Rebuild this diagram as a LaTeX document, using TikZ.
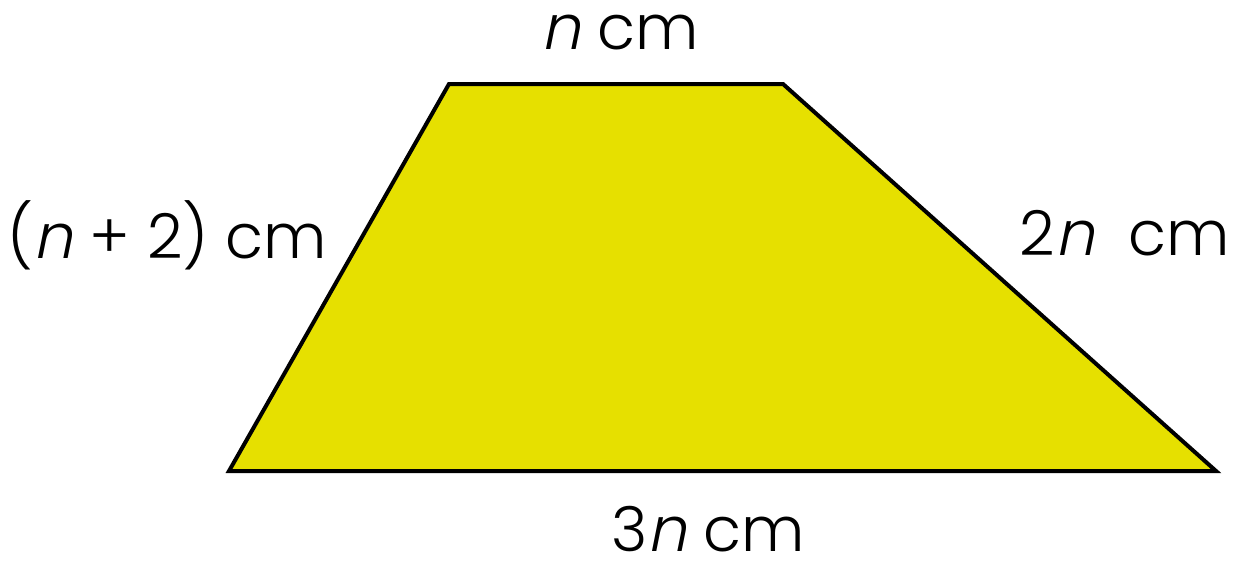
\documentclass[tikz,border=0pt]{standalone}
\usepackage{fontspec}
\IfFontExistsTF{Poppins Light}{%
  \setmainfont{Poppins Light}
  \newfontfamily\slfont{Poppins Light}[FakeSlant=0.2]
}{%
  \setmainfont{Poppins}
  \newfontfamily\slfont{Poppins}[FakeSlant=0.2]
}
\definecolor{trapfill}{HTML}{E6E000}
\tikzset{
  lbl/.style={font=\fontsize{62}{74}\selectfont, inner sep=0pt, anchor=base},
  trapstyle/.style={draw=black, fill=trapfill, line width=4pt, line join=miter}
}
\begin{document}
\begin{tikzpicture}[x=1pt,y=-1pt]
\useasboundingbox (0,0) rectangle (1240,562);
\coordinate (tl) at (449,84);
\coordinate (tr) at (783,84);
\coordinate (br) at (1216,471);
\coordinate (bl) at (229,471);
\draw[trapstyle] (tl) -- (tr) -- (br) -- (bl) -- cycle;
\node[lbl] (top) at (620,49) {{\slfont n} cm};
\node[lbl] (left) at (167,258) {({\slfont n} + 2) cm};
\node[lbl] (right) at (1125,255) {2{\slfont n}\ \ cm};
\node[lbl] (bottom) at (708,551) {3{\slfont n} cm};
\end{tikzpicture}
\end{document}
